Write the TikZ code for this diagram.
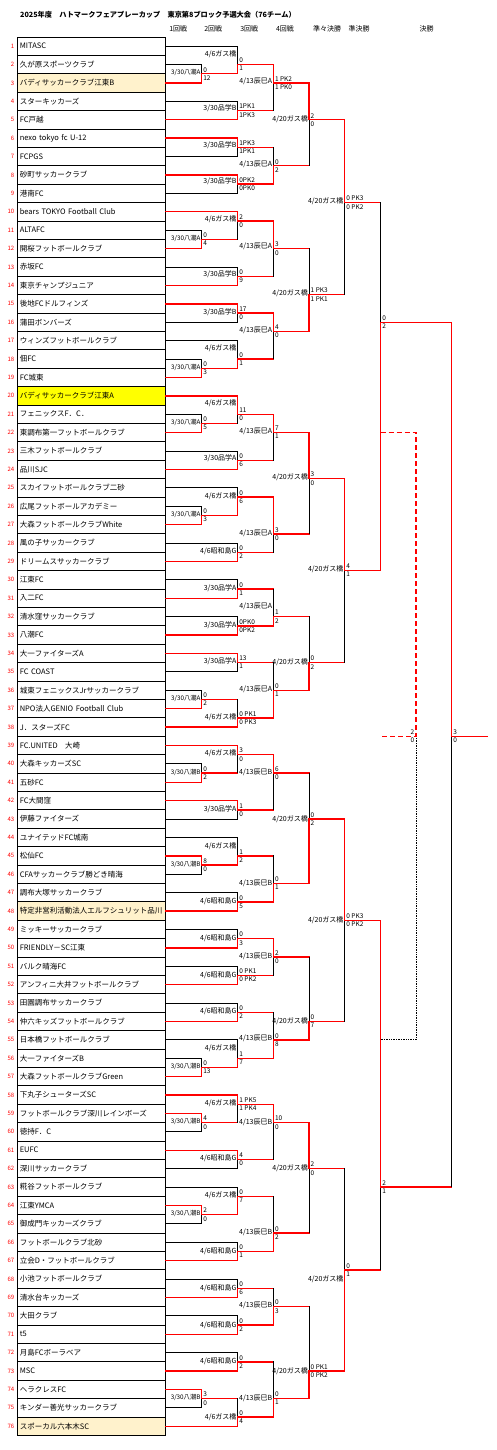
\documentclass[tikz,border=0pt]{standalone}
\usepackage{fontspec}
\setmainfont{Noto Sans CJK JP}
\usepackage{tikz}
\usepackage{xcolor}
\definecolor{winred}{RGB}{255,0,0}
\definecolor{seedtint}{RGB}{255,242,204}
\definecolor{hostyellow}{RGB}{255,255,0}

% bracket columns (x of each junction)
\def\xRa{201.67}
\def\xRb{237.67}
\def\xRc{273.33}
\def\xRd{309}
\def\xRe{344.67}
\def\xRf{380.67}
\def\xRg{451.67}
\def\xRh{487.33}
\def\xRp{416}

% venues
\def\vYashioA{3/30八潮A}
\def\vYashioB{3/30八潮B}
\def\vShinA{3/30品学A}
\def\vShinB{3/30品学B}
\def\vGasA{4/6ガス橋}
\def\vShowa{4/6昭和島G}
\def\vTatA{4/13辰巳A}
\def\vTatB{4/13辰巳B}
\def\vGasB{4/20ガス橋}

\tikzset{
  lose/.style={draw=black, line width=0.7pt, line cap=rect},
  win/.style={draw=winred, line width=1.4pt, line cap=rect},
  team/.style={draw=black, line width=0.7pt, minimum height=18.4pt, text width=143.4pt,
    inner xsep=2.5pt, inner ysep=0pt, align=left, font=\fontsize{7.5}{9}\selectfont},
  num/.style={text=winred, anchor=east, inner sep=0pt, font=\fontsize{6}{7}\selectfont},
  venue/.style={anchor=east, inner sep=1pt, font=\fontsize{7}{8}\selectfont},
  score/.style={inner xsep=1.5pt, inner ysep=1.5pt, font=\fontsize{6.5}{7}\selectfont},
  head/.style={inner sep=0pt, font=\fontsize{7}{8}\selectfont}
}

% junction x, next x, top, bottom, winner, out
\newcommand{\drawbout}[6]{%
  \draw[lose] (#1,#3) -- (#1,#4);
  \draw[win] (#1,#5) -- (#1,#6) -- (#2,#6);}
% name, x, out, top score, bottom score
\newcommand{\drawscores}[5]{%
  \node[score, anchor=south west] (#1a) at (#2,#3) {#4};
  \node[score, anchor=north west] (#1b) at (#2,#3) {#5};}

\begin{document}
\begin{tikzpicture}[x=1pt, y=-9.2pt]
\useasboundingbox (0,-4.0217) rectangle (496,153.587);

\node[anchor=west, inner sep=0pt, font=\fontsize{7.2}{8}\selectfont\bfseries] (title) at (20,-2.39)
  {2025年度　ハトマークフェアプレーカップ　東京第8ブロック予選大会（76チーム）};
\foreach \x/\txt [count=\i] in {178.3/1回戦, 213.3/2回戦, 249.3/3回戦, 285/4回戦, 327/準々決勝, 359/準決勝, 426.7/決勝}
  \node[head] (h\i) at (\x,-0.84) {\txt};

% shaded entries
\foreach \n/\c in {3/seedtint, 20/hostyellow, 48/seedtint, 76/seedtint}
  \path[fill=\c] (17.3,{2*\n-2}) rectangle (165.7,{2*\n});

\foreach \n/\name in {1/MITASC, 2/久が原スポーツクラブ, 3/バディサッカークラブ江東B, 4/スターキッカーズ,
  5/FC戸越, 6/nexo tokyo fc U-12, 7/FCPGS, 8/砂町サッカークラブ, 9/港南FC,
  10/bears TOKYO Football Club, 11/ALTAFC, 12/開桜フットボールクラブ, 13/赤坂FC,
  14/東京チャンプジュニア, 15/後地FCドルフィンズ, 16/蒲田ボンバーズ, 17/ウィンズフットボールクラブ,
  18/佃FC, 19/FC城東, 20/バディサッカークラブ江東A, 21/フェニックスF．C．,
  22/東調布第一フットボールクラブ, 23/三木フットボールクラブ, 24/品川SJC,
  25/スカイフットボールクラブ二砂, 26/広尾フットボールアカデミー, 27/大森フットボールクラブWhite,
  28/風の子サッカークラブ, 29/ドリームスサッカークラブ, 30/江東FC, 31/入二FC,
  32/清水窪サッカークラブ, 33/八潮FC, 34/大一ファイターズA, 35/FC COAST,
  36/城東フェニックスJrサッカークラブ, 37/NPO法人GENIO Football Club, 38/J．スターズFC,
  39/FC.UNITED　大崎, 40/大森キッカーズSC, 41/五砂FC, 42/FC大間窪, 43/伊藤ファイターズ,
  44/ユナイテッドFC城南, 45/松仙FC, 46/CFAサッカークラブ勝どき晴海, 47/調布大塚サッカークラブ,
  48/特定非営利活動法人エルフシュリット品川, 49/ミッキーサッカークラブ, 50/FRIENDLY－SC江東,
  51/バルク晴海FC, 52/アンフィニ大井フットボールクラブ, 53/田園調布サッカークラブ,
  54/仲六キッズフットボールクラブ, 55/日本橋フットボールクラブ, 56/大一ファイターズB,
  57/大森フットボールクラブGreen, 58/下丸子シューターズSC, 59/フットボールクラブ深川レインボーズ,
  60/徳持F．C, 61/EUFC, 62/深川サッカークラブ, 63/糀谷フットボールクラブ, 64/江東YMCA,
  65/御成門キッカーズクラブ, 66/フットボールクラブ北砂, 67/立会D・フットボールクラブ,
  68/小池フットボールクラブ, 69/清水台キッカーズ, 70/大田クラブ, 71/t5, 72/月島FCボーラベア,
  73/MSC, 74/ヘラクレスFC, 75/キンダー善光サッカークラブ, 76/スポーカル六本木SC}{
  \node[team] (t\n) at (91.5,{2*\n-1}) {\name};
  \node[num] (n\n) at (14.5,{2*\n-1}) {\n};
}

% entry lines
\foreach \n in {2,11,18,21,26,36,40,46,56,60,65,75}
  \draw[lose] (t\n.east) -- (\xRa,{2*\n-1});
\foreach \n in {1,4,7,9,13,16,17,23,25,28,30,32,35,43,44,47,49,51,53,55,62,63,66,68,70,72}
  \draw[lose] (t\n.east) -- (\xRb,{2*\n-1});
\foreach \n in {3,12,19,22,27,37,41,45,57,59,64,74}
  \draw[win] (t\n.east) -- (\xRa,{2*\n-1});
\foreach \n in {5,6,8,10,14,15,20,24,29,31,33,34,38,39,42,48,50,52,54,58,61,67,69,71,73,76}
  \draw[win] (t\n.east) -- (\xRb,{2*\n-1});

% 1st round
\foreach \mTop/\mBot/\mWin/\mOut/\mVen/\mSa/\mSb [count=\i] in {
  3/5/5/4/\vYashioA/0/12, 21/23/23/22/\vYashioA/0/4, 35/37/37/36/\vYashioA/0/3,
  41/43/43/42/\vYashioA/0/5, 51/53/53/52/\vYashioA/0/3, 71/73/73/72/\vYashioA/0/2,
  79/81/81/80/\vYashioB/0/2, 89/91/89/90/\vYashioB/8/0, 111/113/113/112/\vYashioB/0/13,
  117/119/117/118/\vYashioB/4/0, 127/129/127/128/\vYashioB/2/0, 147/149/147/148/\vYashioB/3/0}{
  \drawbout{\xRa}{\xRb}{\mTop}{\mBot}{\mWin}{\mOut}
  \node[venue, font=\fontsize{6.3}{7}\selectfont] (r1v\i) at (\xRa,{\mOut-0.1}) {\mVen};
  \drawscores{r1s\i}{\xRa}{\mOut}{\mSa}{\mSb}
}

% 2nd round
\foreach \mTop/\mBot/\mWin/\mOut/\mVen/\mLk/\mSa/\mSb [count=\i] in {
  1/4/4/3/\vGasA/1.9/0/1, 7/9/9/8/\vShinB/7.75/1PK1/1PK3, 11/13/11/12/\vShinB/11.75/1PK3/1PK1,
  15/17/15/16/\vShinB/15.7/0PK2/0PK0, 19/22/19/20/\vGasA/19.8/2/0, 25/27/27/26/\vShinB/25.8/0/9,
  29/31/29/30/\vShinB/29.9/17/0, 33/36/36/35/\vGasA/33.8/0/1, 39/42/39/41/\vGasA/39.8/11/0,
  45/47/47/46/\vShinA/45.8/0/6, 49/52/52/50/\vGasA/49.86/0/6, 55/57/57/56/\vShowa/55.87/0/2,
  59/61/61/60/\vShinA/59.86/0/1, 63/65/65/64/\vShinA/63.9/0PK0/0PK2, 67/69/67/68/\vShinA/67.8/13/1,
  72/75/75/74/\vGasA/73.9/0 PK1/0 PK3, 77/80/77/78/\vGasA/77.86/3/0, 83/85/83/84/\vShinA/83.9/1/0,
  87/90/90/89/\vGasA/87.9/1/2, 93/95/95/94/\vShowa/93.9/0/5, 97/99/99/98/\vShowa/98/0/3,
  101/103/103/102/\vShowa/101.96/0 PK1/0 PK2, 105/107/107/106/\vShowa/105.9/0/2,
  109/112/112/111/\vGasA/109.9/1/7, 115/118/115/116/\vGasA/115.9/1 PK5/1 PK4,
  121/123/121/122/\vShowa/121.9/4/0, 125/128/128/126/\vGasA/125.9/0/7,
  131/133/133/132/\vShowa/131.96/0/1, 135/137/137/136/\vShowa/135.97/0/6,
  139/141/141/140/\vShowa/140/0/2, 143/145/145/144/\vShowa/143.9/0/2,
  148/151/151/150/\vGasA/149.97/0/4}{
  \drawbout{\xRb}{\xRc}{\mTop}{\mBot}{\mWin}{\mOut}
  \node[venue] (r2v\i) at (\xRb,\mLk) {\mVen};
  \drawscores{r2s\i}{\xRb}{\mOut}{\mSa}{\mSb}
}

% 3rd round
\foreach \mTop/\mBot/\mWin/\mOut/\mVen/\mLk/\mSa/\mSb [count=\i] in {
  3/8/3/5/\vTatA/4.86/1 PK2/1 PK0, 12/16/16/14/\vTatA/13.84/0/2, 20/26/20/23/\vTatA/22.8/3/0,
  30/35/30/32/\vTatA/31.85/4/0, 41/46/41/43/\vTatA/42.9/7/1, 50/56/50/54/\vTatA/53.9/3/0,
  60/64/64/63/\vTatA/61.85/1/2, 68/74/74/71/\vTatA/70.9/0/1, 78/84/78/80/\vTatB/79.97/6/0,
  89/94/94/92/\vTatB/92/0/1, 98/102/98/100/\vTatB/99.96/2/0, 106/111/111/109/\vTatB/108.8/0/8,
  116/122/116/118/\vTatB/118/10/0, 126/132/132/130/\vTatB/129.96/0/2,
  136/140/140/138/\vTatB/137.9/0/3, 144/150/150/148/\vTatB/148/0/1}{
  \drawbout{\xRc}{\xRd}{\mTop}{\mBot}{\mWin}{\mOut}
  \node[venue] (r3v\i) at (\xRc,\mLk) {\mVen};
  \drawscores{r3s\i}{\xRc}{\mOut}{\mSa}{\mSb}
}

% 4th round
\foreach \mTop/\mBot/\mWin/\mOut/\mLk/\mSa/\mSb [count=\i] in {
  5/14/5/9/8.9/2/0, 23/32/32/28/27.86/1 PK3/1 PK1, 43/54/43/48/47.86/3/0,
  63/71/71/68/67.97/0/2, 80/92/92/85/85/0/2, 100/109/109/107/106.96/0/7,
  118/130/118/123/122.97/2/0, 138/148/148/145/144.97/0 PK1/0 PK2}{
  \drawbout{\xRd}{\xRe}{\mTop}{\mBot}{\mWin}{\mOut}
  \node[venue] (r4v\i) at (\xRd,\mLk) {\vGasB};
  \drawscores{r4s\i}{\xRd}{\mOut}{\mSa}{\mSb}
}

% quarter-finals
\foreach \mTop/\mBot/\mWin/\mOut/\mLk/\mSa/\mSb [count=\i] in {
  9/28/9/18/17.9/0 PK3/0 PK2, 48/68/48/58/57.86/4/1,
  85/107/85/96/95.98/0 PK3/0 PK2, 123/145/145/134/135/0/1}{
  \drawbout{\xRe}{\xRf}{\mTop}{\mBot}{\mWin}{\mOut}
  \node[venue] (qfv\i) at (\xRe,\mLk) {\vGasB};
  \drawscores{qfs\i}{\xRe}{\mOut}{\mSa}{\mSb}
}

% play-off
\draw[lose, line cap=butt, densely dotted] (\xRp,76) -- (\xRp,109) -- (\xRf,109);
\draw[win, line cap=butt, dash pattern=on 5pt off 3pt] (\xRf,43) -- (\xRp,43) -- (\xRp,76) -- (\xRf,76);
\node[score, anchor=south east] (poa) at (\xRp,76) {2};
\node[score, anchor=north east] (pob) at (\xRp,76) {0};

% semi-finals and final
\drawbout{\xRf}{\xRg}{18}{58}{58}{31}
\drawscores{sfa}{\xRf}{31}{0}{2}
\drawbout{\xRf}{\xRg}{96}{134}{96}{125}
\drawscores{sfb}{\xRf}{125}{2}{1}
\drawbout{\xRg}{\xRh}{31}{125}{31}{76}
\drawscores{fin}{\xRg}{76}{3}{0}
\end{tikzpicture}
\end{document}
